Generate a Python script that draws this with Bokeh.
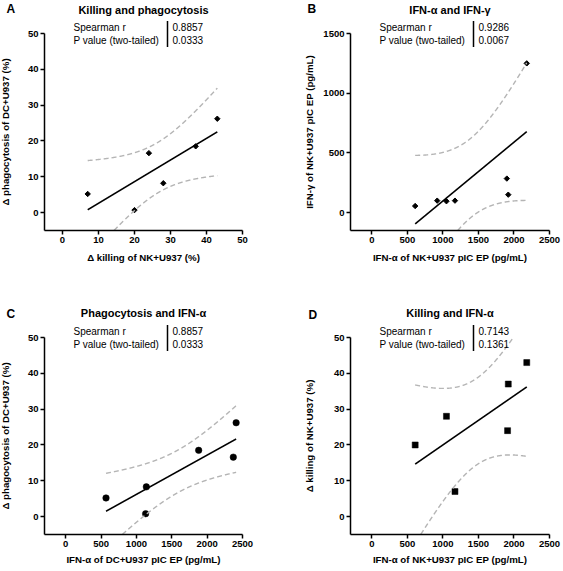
import numpy as np
from bokeh.plotting import figure
from bokeh.models import Range1d, FixedTicker, Label, Arrow
from bokeh.layouts import column, row
from bokeh.embed import file_html
from bokeh.resources import INLINE

# ---------------- data ----------------
# Panel A: killing vs phagocytosis
a_killing = [7, 20, 24, 28, 37, 43]
a_phago = [5.2, 0.7, 16.6, 8.2, 18.5, 26.2]
# Panel B: IFN-alpha vs IFN-gamma (NK+U937)
b_ifna = [610, 920, 1050, 1170, 1900, 1920, 2180]
b_ifng = [55, 100, 95, 100, 285, 150, 1250]
# Panel C: IFN-alpha (DC+U937) vs phagocytosis
c_ifna = [570, 1130, 1140, 1880, 2370, 2410]
c_phago = [5.2, 0.8, 8.3, 18.5, 16.6, 26.2]
# Panel D: IFN-alpha (NK+U937) vs killing
d_ifna = [610, 1050, 1170, 1910, 1920, 2180]
d_killing = [20, 28, 7, 24, 37, 43]

spearman_r = ["0.8857", "0.9286", "0.8857", "0.7143"]
p_values = ["0.0333", "0.0067", "0.0333", "0.1361"]
titles = ["Killing and phagocytosis", "IFN-\u03b1 and IFN-\u03b3",
          "Phagocytosis and IFN-\u03b1", "Killing and IFN-\u03b1"]
letters = ["A", "B", "C", "D"]
x_labels = ["\u0394 killing of NK+U937 (%)", "IFN-\u03b1 of NK+U937 pIC EP (pg/mL)",
            "IFN-\u03b1 of DC+U937 pIC EP (pg/mL)", "IFN-\u03b1 of NK+U937 pIC EP (pg/mL)"]
y_labels = ["\u0394 phagocytosis of DC+U937 (%)", "IFN-\u03b3 of NK+U937 pIC EP (pg/mL)",
            "\u0394 phagocytosis of DC+U937 (%)", "\u0394 killing of NK+U937 (%)"]
pct_ticks = [0, 10, 20, 30, 40, 50]
pg_ticks = [0, 500, 1000, 1500, 2000, 2500]
ifng_ticks = [0, 500, 1000, 1500]

# two-tailed 95% t critical values by degrees of freedom
T_CRIT = {4: 2.776, 5: 2.571}

FONT = "Liberation Sans"


def fit_with_band(x, y, npts=1500):
    x = np.asarray(x, float)
    y = np.asarray(y, float)
    n = len(x)
    slope, intercept = np.polyfit(x, y, 1)
    xs = np.linspace(x.min(), x.max(), npts)
    yhat = intercept + slope * xs
    resid = y - (intercept + slope * x)
    s = np.sqrt(np.sum(resid ** 2) / (n - 2))
    sxx = np.sum((x - x.mean()) ** 2)
    se = s * np.sqrt(1.0 / n + (xs - x.mean()) ** 2 / sxx)
    t = T_CRIT[n - 2]
    return xs, yhat, yhat - t * se, yhat + t * se


def panel(i, x, y, marker, msize, xr, yr, xticks, yticks, geom):
    # geom: canvas W, H; plot-area box (left, top, right, bottom) in canvas px;
    # y-label standoff, x-label standoff, title y, letter x, letter y
    W, H, fl, ft, fr, fb, ylab_so, xlab_so, title_y, let_x, let_y = geom
    ppx = (xr[1] - xr[0]) / (fr - fl)
    ppy = (yr[1] - yr[0]) / (fb - ft)
    X0 = xr[0] - fl * ppx
    X1 = xr[1] + (W - fr) * ppx
    Y0 = yr[0] - (H - fb) * ppy
    Y1 = yr[1] + ft * ppy

    def dx(px):
        return X0 + px * ppx

    def dy(py):
        return Y1 - py * ppy

    p = figure(width=W, height=H, x_range=Range1d(X0, X1), y_range=Range1d(Y0, Y1),
               output_backend="svg", toolbar_location=None, title=None,
               min_border_left=0, min_border_right=0,
               min_border_top=0, min_border_bottom=0)
    p.xgrid.visible = False
    p.ygrid.visible = False
    p.outline_line_color = None
    p.background_fill_color = "white"
    p.border_fill_color = "white"
    for ax in (p.xaxis[0], p.yaxis[0]):
        ax.axis_line_width = 1.5
        ax.axis_line_color = "black"
        ax.major_tick_line_width = 1.5
        ax.major_tick_line_color = "black"
        ax.major_tick_out = 4
        ax.major_tick_in = 0
        ax.minor_tick_line_color = None
        ax.major_label_text_font = FONT
        ax.major_label_text_font_style = "bold"
        ax.major_label_text_font_size = "9.5px"
        ax.major_label_text_color = "black"
        ax.major_label_standoff = 2
        ax.axis_label_text_font = FONT
        ax.axis_label_text_font_style = "bold"
        ax.axis_label_text_font_size = "9.7px"
        ax.axis_label_text_color = "black"
    p.xaxis.fixed_location = yr[0]
    p.yaxis.fixed_location = xr[0]
    p.xaxis.bounds = (xr[0], xr[1])
    p.yaxis.bounds = (yr[0], yr[1])
    p.xaxis.ticker = FixedTicker(ticks=xticks)
    p.yaxis.ticker = FixedTicker(ticks=yticks)
    p.xaxis.axis_label = x_labels[i]
    p.yaxis.axis_label = y_labels[i]
    p.xaxis.axis_label_standoff = xlab_so
    p.yaxis.axis_label_standoff = ylab_so

    # regression line + points + 95% confidence band (limited to the plot area)
    xs, yhat, lo, hi = fit_with_band(x, y)
    p.line(xs, yhat, line_color="black", line_width=1.6)
    if marker == "diamond":
        p.scatter(x, y, marker="square", angle=np.pi / 4, size=msize,
                  fill_color="black", line_color="black", line_width=1)
    else:
        p.scatter(x, y, marker=marker, size=msize,
                  fill_color="black", line_color="black", line_width=0.5)
    for band in (lo, hi):
        b = np.where((band >= yr[0]) & (band <= yr[1]), band, np.nan)
        p.line(xs, b, line_color="#b4b4b4", line_width=1.4, line_dash="5 3")

    # title and panel letter
    p.add_layout(Label(x=dx((fl + fr) / 2), y=dy(title_y), text=titles[i],
                       text_align="center", text_baseline="middle",
                       text_font=FONT, text_font_style="bold",
                       text_font_size="11px", text_color="black"))
    p.add_layout(Label(x=dx(let_x), y=dy(let_y), text=letters[i],
                       text_align="left", text_baseline="middle",
                       text_font=FONT, text_font_style="bold",
                       text_font_size="12px", text_color="black"))
    # statistics table
    for txt, val, ry in (("Spearman r", spearman_r[i], -6.5),
                         ("P value (two-tailed)", p_values[i], 6.5)):
        p.add_layout(Label(x=dx(fl + 29), y=dy(ft + ry), text=txt, text_align="left",
                           text_baseline="middle", text_font=FONT,
                           text_font_size="10px", text_color="black"))
        p.add_layout(Label(x=dx(fl + 128), y=dy(ft + ry), text=val, text_align="left",
                           text_baseline="middle", text_font=FONT,
                           text_font_size="10px", text_color="black"))
    p.add_layout(Arrow(end=None, start=None, x_start=dx(fl + 123), y_start=dy(ft - 12.5),
                       x_end=dx(fl + 123), y_end=dy(ft + 13.5), line_color="black",
                       line_width=1.5))
    return p


# geometry: W, H, plot box (l, t, r, b), ylabel standoff, xlabel standoff,
#           title y, letter x, letter y
gA = (280, 290, 44, 33, 242, 230, 14, 6, 9, 6, 8)
gB = (283, 290, 70, 33, 269, 230, 5, 6, 9, 27, 8)
gC = (280, 281, 44, 47, 242, 244, 14, 4, 22, 6, 23.5)
gD = (283, 281, 70, 47, 269, 244, 16, 4, 22, 28, 24)

pA = panel(0, a_killing, a_phago, "diamond", 3.8, (-5, 50), (-5, 50), pct_ticks, pct_ticks, gA)
pB = panel(1, b_ifna, b_ifng, "diamond", 3.8, (-300, 2500), (-150, 1500), pg_ticks, ifng_ticks, gB)
pC = panel(2, c_ifna, c_phago, "circle", 6.5, (-300, 2500), (-5, 50), pg_ticks, pct_ticks, gC)
pD = panel(3, d_ifna, d_killing, "square", 6, (-300, 2500), (-5, 50), pg_ticks, pct_ticks, gD)

layout = column(row(pA, pB), row(pC, pD))
open("out.html", "w").write(file_html(layout, INLINE))
